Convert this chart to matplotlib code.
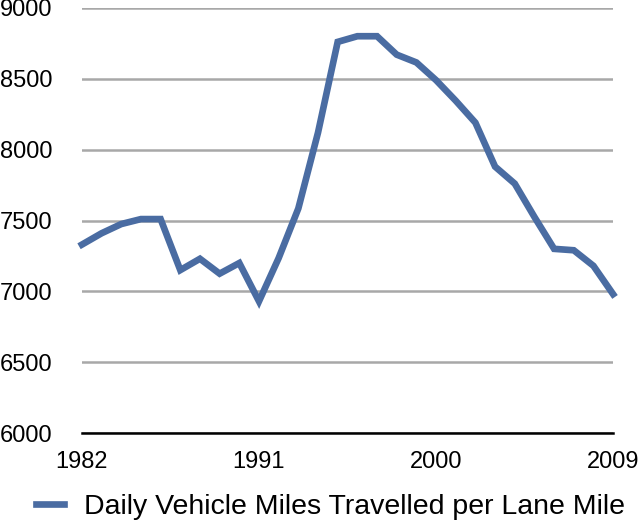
import matplotlib
matplotlib.use("Agg")
import matplotlib.pyplot as plt

plt.rcParams['font.family'] = ['Liberation Sans', 'DejaVu Sans']

years = list(range(1982, 2010))
vmt_per_lane_mile = [
    7330, 7410, 7475, 7510, 7510, 7150, 7230, 7125, 7200, 6930,
    7235, 7585, 8120, 8760, 8800, 8800, 8670, 8615, 8490, 8345,
    8190, 7880, 7760, 7525, 7300, 7290, 7180, 6980,
]
x_ticks = [1982, 1991, 2000, 2009]
y_ticks = [6000, 6500, 7000, 7500, 8000, 8500, 9000]
series_label = "Daily Vehicle Miles Travelled per Lane Mile"

fig = plt.figure(figsize=(6.4, 5.25), dpi=100)
ax = fig.add_axes([0.128, 0.175, 0.83, 0.81])

ax.plot(years, vmt_per_lane_mile, color='#4A6CA2', linewidth=4.8,
        solid_joinstyle='miter', label=series_label, clip_on=False)

ax.set_xlim(1982, 2009)
ax.set_ylim(6000, 9000)
ax.set_xticks(x_ticks)
ax.set_yticks(y_ticks)
ax.yaxis.grid(True, color='#a8a8a8', linewidth=1.8)
ax.set_axisbelow(True)

for side in ['top', 'right', 'left']:
    ax.spines[side].set_visible(False)
ax.spines['bottom'].set_linewidth(1.8)
ax.spines['bottom'].set_color('black')
ax.tick_params(axis='both', length=0, labelsize=17)
ax.tick_params(axis='y', pad=21)
ax.tick_params(axis='x', pad=13)

leg = fig.legend(loc='center', bbox_to_anchor=(0.516, 0.034), frameon=False,
                 fontsize=20.5, handlelength=1.0, handletextpad=0.7,
                 borderpad=0, borderaxespad=0)

fig.savefig("out.png", dpi=100)
